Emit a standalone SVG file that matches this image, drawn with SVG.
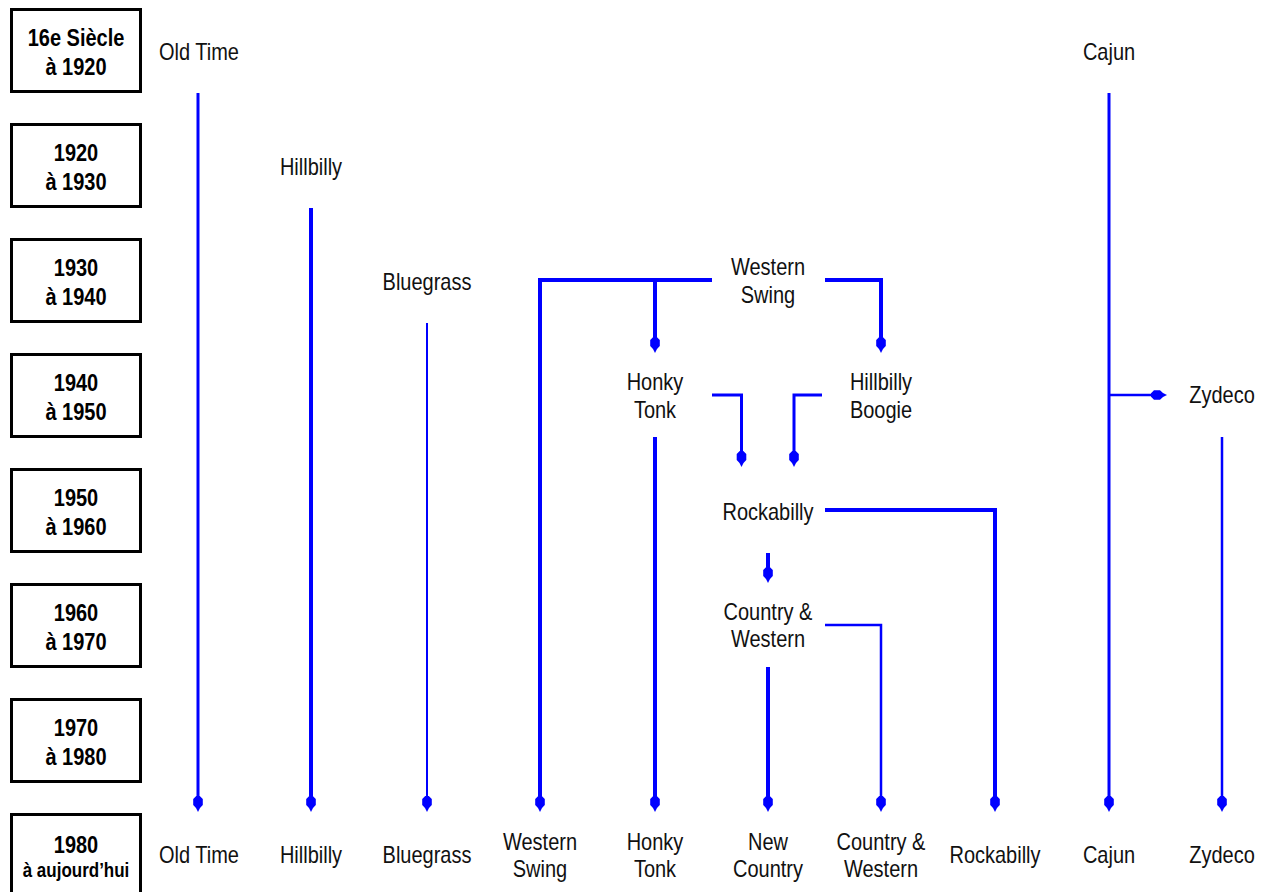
<svg xmlns="http://www.w3.org/2000/svg" width="1270" height="892" viewBox="0 0 1270 892">
<style>
.box rect{fill:#fff;stroke:#000;stroke-width:3}
.bt{font-family:"Liberation Sans",Arial,sans-serif;font-weight:bold;font-size:20px;text-anchor:middle;fill:#000}
.bts{font-size:17px}
.lbl{font-family:"Liberation Sans",Arial,sans-serif;font-size:20px;text-anchor:middle;fill:#111}
.c{fill:none;stroke:#0000ff;stroke-linejoin:miter}
.w4{stroke-width:4}
.w3{stroke-width:3}
.w2{stroke-width:2.5}
.w1{stroke-width:2}
</style>
<defs>
<marker id="ah" markerUnits="userSpaceOnUse" viewBox="0 -6 17 12" markerWidth="17" markerHeight="12" refX="12" refY="0" orient="auto">
<path d="M0,-1.8 L3,-4.8 L9,-4.8 L12,-2 L16,0 L12,2 L9,4.8 L3,4.8 L0,1.8 Z" fill="#0000ff"/>
</marker>
</defs>
<rect width="1270" height="892" fill="#fff"/>

<g id="periods">
<g id="p1" class="box"><rect x="11.5" y="9.5" width="129" height="82"/>
<text class="bt" transform="translate(76,46) scale(1,1.2)">16e Siècle</text>
<text class="bt" transform="translate(76,75) scale(1,1.2)">à 1920</text></g>
<g id="p2" class="box"><rect x="11.5" y="124.5" width="129" height="82"/>
<text class="bt" transform="translate(76,161) scale(1,1.2)">1920</text>
<text class="bt" transform="translate(76,190) scale(1,1.2)">à 1930</text></g>
<g id="p3" class="box"><rect x="11.5" y="239.5" width="129" height="82"/>
<text class="bt" transform="translate(76,276) scale(1,1.2)">1930</text>
<text class="bt" transform="translate(76,305) scale(1,1.2)">à 1940</text></g>
<g id="p4" class="box"><rect x="11.5" y="354.5" width="129" height="82"/>
<text class="bt" transform="translate(76,391) scale(1,1.2)">1940</text>
<text class="bt" transform="translate(76,420) scale(1,1.2)">à 1950</text></g>
<g id="p5" class="box"><rect x="11.5" y="469.5" width="129" height="82"/>
<text class="bt" transform="translate(76,506) scale(1,1.2)">1950</text>
<text class="bt" transform="translate(76,535) scale(1,1.2)">à 1960</text></g>
<g id="p6" class="box"><rect x="11.5" y="584.5" width="129" height="82"/>
<text class="bt" transform="translate(76,621) scale(1,1.2)">1960</text>
<text class="bt" transform="translate(76,650) scale(1,1.2)">à 1970</text></g>
<g id="p7" class="box"><rect x="11.5" y="699.5" width="129" height="82"/>
<text class="bt" transform="translate(76,736) scale(1,1.2)">1970</text>
<text class="bt" transform="translate(76,765) scale(1,1.2)">à 1980</text></g>
<g id="p8" class="box"><rect x="11.5" y="814.5" width="129" height="82"/>
<text class="bt" transform="translate(76,853) scale(1,1.2)">1980</text>
<text class="bt bts" transform="translate(76,877) scale(1,1.2)">à aujourd’hui</text></g>
</g>

<g id="connectors">
<path class="c w3" d="M198,93 V808" marker-end="url(#ah)"/>
<path class="c w4" d="M311,208 V808" marker-end="url(#ah)"/>
<path class="c w1" d="M427,323 V808" marker-end="url(#ah)"/>
<path class="c w4" d="M712,280 H540 V808" marker-end="url(#ah)"/>
<path class="c w4" d="M655,280 V349" marker-end="url(#ah)"/>
<path class="c w4" d="M825,280 H881 V349" marker-end="url(#ah)"/>
<path class="c w4" d="M655,437 V808" marker-end="url(#ah)"/>
<path class="c w3" d="M712,395 H741.5 V463" marker-end="url(#ah)"/>
<path class="c w3" d="M822,395 H794 V463" marker-end="url(#ah)"/>
<path class="c w4" d="M825,510 H995 V808" marker-end="url(#ah)"/>
<path class="c w4" d="M768,553 V579" marker-end="url(#ah)"/>
<path class="c w2" d="M825,625 H881 V808" marker-end="url(#ah)"/>
<path class="c w4" d="M768,667 V808" marker-end="url(#ah)"/>
<path class="c w3" d="M1109,93 V808" marker-end="url(#ah)"/>
<path class="c w2" d="M1109,395 H1163" marker-end="url(#ah)"/>
<path class="c w2" d="M1222,437 V808" marker-end="url(#ah)"/>
</g>

<g id="n-oldtime-top"><text class="lbl" transform="translate(199,60) scale(1,1.2)">Old Time</text></g>
<g id="n-cajun-top"><text class="lbl" transform="translate(1109,60) scale(1,1.2)">Cajun</text></g>
<g id="n-hillbilly-top"><text class="lbl" transform="translate(311,175) scale(1,1.2)">Hillbilly</text></g>
<g id="n-bluegrass-top"><text class="lbl" transform="translate(427,290) scale(1,1.2)">Bluegrass</text></g>
<g id="n-westernswing-top"><text class="lbl" transform="translate(768,275) scale(1,1.2)">Western</text><text class="lbl" transform="translate(768,303) scale(1,1.2)">Swing</text></g>
<g id="n-honkytonk-top"><text class="lbl" transform="translate(655,390) scale(1,1.2)">Honky</text><text class="lbl" transform="translate(655,418) scale(1,1.2)">Tonk</text></g>
<g id="n-hillbillyboogie"><text class="lbl" transform="translate(881,390) scale(1,1.2)">Hillbilly</text><text class="lbl" transform="translate(881,418) scale(1,1.2)">Boogie</text></g>
<g id="n-zydeco-top"><text class="lbl" transform="translate(1222,403) scale(1,1.2)">Zydeco</text></g>
<g id="n-rockabilly-mid"><text class="lbl" transform="translate(768,520) scale(1,1.2)">Rockabilly</text></g>
<g id="n-cw-mid"><text class="lbl" transform="translate(768,620) scale(1,1.2)">Country &amp;</text><text class="lbl" transform="translate(768,647) scale(1,1.2)">Western</text></g>

<g id="n-oldtime-bot"><text class="lbl" transform="translate(199,863) scale(1,1.2)">Old Time</text></g>
<g id="n-hillbilly-bot"><text class="lbl" transform="translate(311,863) scale(1,1.2)">Hillbilly</text></g>
<g id="n-bluegrass-bot"><text class="lbl" transform="translate(427,863) scale(1,1.2)">Bluegrass</text></g>
<g id="n-westernswing-bot"><text class="lbl" transform="translate(540,850) scale(1,1.2)">Western</text><text class="lbl" transform="translate(540,877) scale(1,1.2)">Swing</text></g>
<g id="n-honkytonk-bot"><text class="lbl" transform="translate(655,850) scale(1,1.2)">Honky</text><text class="lbl" transform="translate(655,877) scale(1,1.2)">Tonk</text></g>
<g id="n-newcountry"><text class="lbl" transform="translate(768,850) scale(1,1.2)">New</text><text class="lbl" transform="translate(768,877) scale(1,1.2)">Country</text></g>
<g id="n-cw-bot"><text class="lbl" transform="translate(881,850) scale(1,1.2)">Country &amp;</text><text class="lbl" transform="translate(881,877) scale(1,1.2)">Western</text></g>
<g id="n-rockabilly-bot"><text class="lbl" transform="translate(995,863) scale(1,1.2)">Rockabilly</text></g>
<g id="n-cajun-bot"><text class="lbl" transform="translate(1109,863) scale(1,1.2)">Cajun</text></g>
<g id="n-zydeco-bot"><text class="lbl" transform="translate(1222,863) scale(1,1.2)">Zydeco</text></g>
</svg>
